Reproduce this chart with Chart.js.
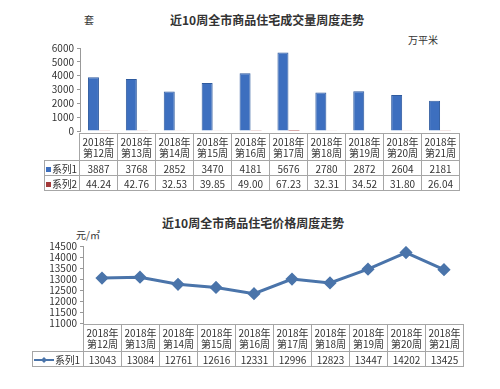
<!DOCTYPE html>
<html lang="zh">
<head>
<meta charset="UTF-8">
<title>近10周全市商品住宅周度走势</title>
<script src="https://cdn.jsdelivr.net/npm/chart.js"></script>
<style>
  body { margin: 0; width: 500px; height: 389px; background: #fff; position: relative; overflow: hidden;
         font-family: "Noto Sans CJK SC", "Noto Sans", sans-serif; color: #333; }
  .txt { position: absolute; white-space: nowrap; }
  .title { font-weight: bold; font-size: 12px; }
  .unit { font-size: 10px; }
  .box { position: absolute; }
  table { border-collapse: collapse; table-layout: fixed; font-size: 10px; }
  td { border: 1px solid #a6a6a6; text-align: center; padding: 0; height: 14px; line-height: 11px;
       white-space: nowrap; overflow: visible; }
  td.head { height: 26px; }
  td.blank { border-top: none; border-left: none; }
  td.lab { text-align: left; padding-left: 1px; letter-spacing: -0.3px; }
  .sq { display: inline-block; width: 5px; height: 5px; margin-right: 1px; vertical-align: 1px; }
</style>
</head>
<body>
<div class="txt unit" style="left:84px; top:12px;">套</div>
<div class="txt title" style="left:170px; top:11px;">近10周全市商品住宅成交量周度走势</div>
<div class="txt unit" style="left:408px; top:32px;">万平米</div>
<div class="box" style="left:0; top:38px; width:500px; height:102px;"><canvas id="volChart"></canvas></div>
<div class="box" style="left:44px; top:133px;"><table id="volTable"></table></div>

<div class="txt title" style="left:162px; top:214px;">近10周全市商品住宅价格周度走势</div>
<div class="txt unit" style="left:76px; top:227px;">元/㎡</div>
<div class="box" style="left:0; top:236px; width:500px; height:96px;"><canvas id="priceChart"></canvas></div>
<div class="box" style="left:32px; top:324px;"><table id="priceTable"></table></div>

<script>
// 数据
const weeks = ['第12周', '第13周', '第14周', '第15周', '第16周', '第17周', '第18周', '第19周', '第20周', '第21周'];
const year = '2018年';
const volume = [3887, 3768, 2852, 3470, 4181, 5676, 2780, 2872, 2604, 2181];      // 系列1 套
const area = [44.24, 42.76, 32.53, 39.85, 49.00, 67.23, 32.31, 34.52, 31.80, 26.04]; // 系列2 万平米
const price = [13043, 13084, 12761, 12616, 12331, 12996, 12823, 13447, 14202, 13425]; // 元/㎡
const volTicks = [0, 1000, 2000, 3000, 4000, 5000, 6000];
const priceTicks = [11000, 11500, 12000, 12500, 13000, 13500, 14000, 14500];

const blue = '#3d6fbf';
const red = '#a33a3a';
const lineBlue = '#4a74aa';
const labels = weeks.map(w => year + '\n' + w);

function yAxis(ticks, width) {
  return {
    min: ticks[0],
    max: ticks[ticks.length - 1],
    afterFit: s => { s.width = width; },
    afterBuildTicks: s => { s.ticks = ticks.map(v => ({ value: v })); },
    border: { color: '#999' },
    grid: { drawOnChartArea: false, tickLength: 3, color: '#999' },
    ticks: { padding: 3, color: '#333', autoSkip: false, callback: v => String(v),
             font: { size: 10, family: 'Noto Sans CJK SC' } }
  };
}

new Chart(document.getElementById('volChart'), {
  type: 'bar',
  data: {
    labels: labels,
    datasets: [
      { label: '系列1', data: volume, backgroundColor: blue, borderColor: '#2e5a9e', borderWidth: 1,
        categoryPercentage: 0.58, barPercentage: 1 },
      { label: '系列2', data: area, backgroundColor: red,
        categoryPercentage: 0.58, barPercentage: 1 }
    ]
  },
  options: {
    responsive: true,
    maintainAspectRatio: false,
    animation: false,
    layout: { padding: { top: 10, bottom: 7, left: 0, right: 41 } },
    plugins: { legend: { display: false }, tooltip: { enabled: false } },
    scales: {
      x: { display: false, offset: true },
      y: yAxis(volTicks, 80)
    }
  }
});

new Chart(document.getElementById('priceChart'), {
  type: 'line',
  data: {
    labels: labels,
    datasets: [
      { label: '系列1', data: price, borderColor: lineBlue, backgroundColor: lineBlue, borderWidth: 3,
        pointStyle: 'rectRot', pointRadius: 4.5, tension: 0 }
    ]
  },
  options: {
    responsive: true,
    maintainAspectRatio: false,
    animation: false,
    layout: { padding: { top: 10, bottom: 8, left: 0, right: 37 } },
    plugins: { legend: { display: false }, tooltip: { enabled: false } },
    scales: {
      x: { display: false, offset: true },
      y: yAxis(priceTicks, 83)
    }
  }
});

// 数据表
function buildTable(id, firstWidth, rows) {
  let html = '<colgroup><col style="width:' + firstWidth + 'px">';
  weeks.forEach(() => { html += '<col style="width:38px">'; });
  html += '</colgroup><tr><td class="head blank"></td>';
  weeks.forEach(w => { html += '<td class="head">' + year + '<br>' + w + '</td>'; });
  html += '</tr>';
  rows.forEach(r => {
    html += '<tr><td class="lab">' + r.marker + r.name + '</td>';
    r.values.forEach(v => { html += '<td>' + v + '</td>'; });
    html += '</tr>';
  });
  document.getElementById(id).innerHTML = html;
}

buildTable('volTable', 35, [
  { name: '系列1', marker: '<span class="sq" style="background:' + blue + '"></span>', values: volume },
  { name: '系列2', marker: '<span class="sq" style="background:' + red + '"></span>', values: area.map(v => v.toFixed(2)) }
]);

const lineMarker = '<svg width="20" height="8" style="vertical-align:0;margin-right:1px">' +
  '<line x1="0" y1="4" x2="20" y2="4" stroke="' + lineBlue + '" stroke-width="2"/>' +
  '<polygon points="10,1 13,4 10,7 7,4" fill="' + lineBlue + '"/></svg>';
buildTable('priceTable', 51, [
  { name: '系列1', marker: lineMarker, values: price }
]);
</script>
</body>
</html>
